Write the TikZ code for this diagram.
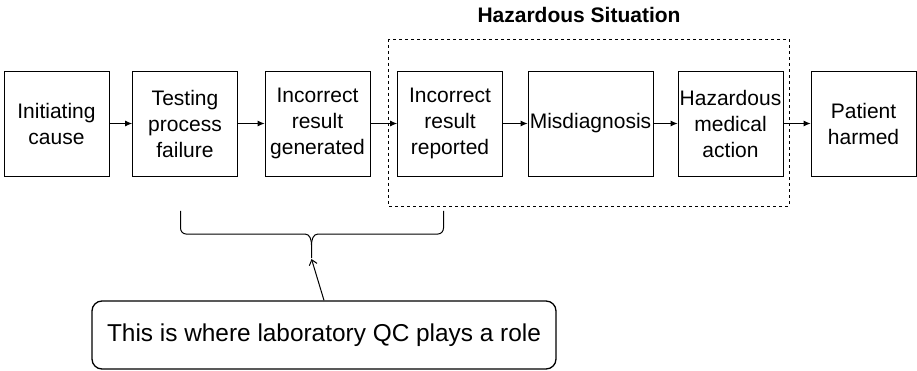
\documentclass[tikz,border=0pt]{standalone}
\usepackage{fontspec}
\setmainfont{Liberation Sans}
\usetikzlibrary{arrows.meta}
\begin{document}
\begin{tikzpicture}[x=1pt,y=-1pt,
  stage/.style={draw,line width=0.8pt,minimum width=105pt,minimum height=105pt,inner sep=0pt,align=center,font=\fontsize{21}{26}\selectfont},
  flow/.style={-{Latex[length=7pt,width=6pt]},line width=0.9pt},
  pointer/.style={-{Straight Barb[length=5pt,width=8pt]},line width=1pt}]
\useasboundingbox (0,0) rectangle (917,371);
%\draw[help lines] (0,0) grid[step=50] (917,371);
\node[stage] (cause) at (56.5,123.5) {Initiating\\cause};
\node[stage] (testing) at (185,123.5) {Testing\\process\\failure};
\node[stage] (generated) at (317.5,123.5) {Incorrect\\result\\generated};
\node[stage] (reported) at (450,123.5) {Incorrect\\result\\reported};
\node[stage,minimum width=125pt] (misdiag) at (590.5,123.5) {Misdiagnosis};
\node[stage] (action) at (730.5,123.5) {Hazardous\\medical\\action};
\node[stage] (harmed) at (863.5,123.5) {Patient\\harmed};
\draw[flow] (cause) -- (testing);
\draw[flow] (testing) -- (generated);
\draw[flow] (generated) -- (reported);
\draw[flow] (reported) -- (misdiag);
\draw[flow] (misdiag) -- (action);
\draw[flow] (action) -- (harmed);
\draw[line width=0.8pt,dash pattern=on 3pt off 3pt] (388,39) rectangle (789,206);
\node[font=\bfseries\fontsize{21}{25}\selectfont] (hazard) at (579,15) {Hazardous Situation};
\draw[line width=1pt] (180.5,211) -- (180.5,228) to[out=-90,in=180] (186,234) -- (305,234) to[out=0,in=90] (311.5,245) -- (311.5,258);
\draw[line width=1pt] (443.5,211) -- (443.5,228) to[out=-90,in=0] (438,234) -- (318,234) to[out=180,in=90] (311.5,245);
\coordinate (cusp) at (311.5,259);
\node[draw,rounded corners=10pt,line width=1.3pt,minimum width=464pt,minimum height=68pt,font=\fontsize{24.4}{29}\selectfont] (qc) at (324,335) {This is where laboratory QC plays a role};
\draw[pointer] (qc.north) -- (cusp);
\end{tikzpicture}
\end{document}
